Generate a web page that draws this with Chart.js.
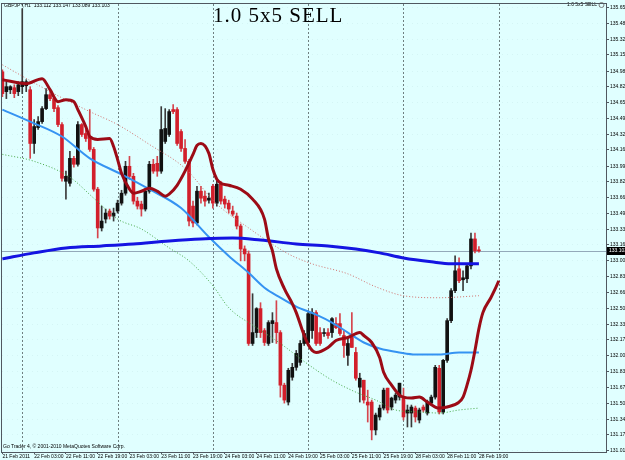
<!DOCTYPE html>
<html>
<head>
<meta charset="utf-8">
<script src="https://cdn.jsdelivr.net/npm/chart.js@4.4.1/dist/chart.umd.min.js"></script>
<style>
  html, body { margin: 0; padding: 0; background: #e0ffff; }
  #wrap { width: 625px; height: 460px; }
</style>
</head>
<body>
<div id="wrap"><canvas id="chart" width="625" height="460"></canvas></div>
<script>
// GBPJPY H1 — MT4 style candles with moving averages / envelopes

// --- candles (bar index 0 = 21 Feb 19:00) ---
const opens = [
  134.979, 134.771, 134.791, 134.812, 134.771, 134.823, 134.833, 134.791, 134.228, 134.395,
  134.457, 134.593, 134.739, 134.698, 134.603, 134.426, 133.832, 133.811, 134.072, 134.010,
  134.426, 134.332, 134.301, 134.166, 133.749, 133.343, 133.436, 133.520, 133.467, 133.520,
  133.603, 133.707, 133.989, 133.884, 133.624, 133.593, 133.541, 133.728, 134.010, 134.020,
  133.938, 134.249, 134.322, 134.583, 134.583, 134.353, 134.176, 134.041, 133.572, 133.395,
  133.728, 133.676, 133.634, 133.780, 133.603, 133.801, 133.645, 133.603, 133.520, 133.467,
  133.363, 133.123, 133.071, 132.133, 132.247, 132.498, 132.268, 132.133, 132.341, 132.352,
  132.247, 131.696, 131.519, 131.779, 131.883, 131.935, 132.133, 132.143, 132.268, 132.456,
  132.247, 132.237, 132.247, 132.247, 132.341, 132.341, 132.216, 132.008, 132.216, 132.039,
  131.675, 131.748, 131.519, 131.519, 131.227, 131.363, 131.456, 131.665, 131.467, 131.540,
  131.571, 131.561, 131.404, 131.404, 131.456, 131.331, 131.467, 131.404, 131.508, 131.571,
  131.873, 131.415, 131.956, 132.372, 132.686, 132.915, 132.800, 132.811, 132.946, 133.228,
  133.112
];
const highs = [
  135.000, 134.875, 134.833, 134.843, 134.875, 135.640, 134.896, 134.823, 134.478, 134.510,
  134.614, 134.802, 134.771, 134.718, 134.624, 134.447, 133.938, 134.145, 134.093, 134.457,
  134.437, 134.374, 134.583, 134.186, 133.769, 133.572, 133.541, 133.541, 133.551, 133.634,
  133.738, 134.041, 134.093, 133.915, 133.665, 133.624, 133.759, 134.041, 134.062, 134.093,
  134.614, 134.593, 134.583, 134.635, 134.603, 134.374, 134.270, 134.062, 133.624, 133.780,
  133.780, 133.728, 133.707, 133.801, 133.832, 133.832, 133.676, 133.634, 133.572, 133.499,
  133.384, 133.155, 133.102, 132.654, 132.508, 132.560, 132.289, 132.372, 132.456, 132.581,
  132.268, 131.717, 131.873, 131.925, 132.060, 132.164, 132.268, 132.477, 132.498, 132.477,
  132.299, 132.289, 132.289, 132.404, 132.404, 132.445, 132.268, 132.195, 132.456, 132.091,
  131.821, 131.748, 131.644, 131.540, 131.404, 131.488, 131.665, 131.665, 131.571, 131.613,
  131.717, 131.665, 131.488, 131.488, 131.477, 131.456, 131.488, 131.540, 131.592, 131.904,
  131.904, 131.966, 132.393, 132.707, 133.050, 133.029, 132.894, 132.967, 133.290, 133.290,
  133.147
];
const lows = [
  134.718, 134.698, 134.750, 134.708, 134.729, 134.750, 134.771, 134.072, 134.124, 134.374,
  134.437, 134.583, 134.677, 134.562, 134.405, 133.832, 133.645, 133.780, 133.979, 133.989,
  134.301, 134.249, 134.145, 133.728, 133.238, 133.311, 133.395, 133.436, 133.415, 133.499,
  133.582, 133.686, 133.853, 133.593, 133.541, 133.467, 133.520, 133.707, 133.915, 133.884,
  133.915, 134.228, 134.301, 134.541, 134.207, 134.145, 134.020, 133.363, 133.353, 133.374,
  133.603, 133.572, 133.603, 133.551, 133.572, 133.593, 133.551, 133.499, 133.467, 133.332,
  132.998, 132.998, 132.112, 132.112, 132.195, 132.195, 132.112, 132.112, 132.143, 132.133,
  131.571, 131.508, 131.488, 131.748, 131.852, 131.904, 132.112, 132.112, 132.185, 132.112,
  132.112, 132.206, 132.185, 132.195, 132.289, 132.216, 131.987, 131.904, 132.091, 131.748,
  131.519, 131.508, 131.310, 131.123, 131.175, 131.331, 131.436, 131.404, 131.436, 131.508,
  131.540, 131.331, 131.258, 131.258, 131.310, 131.300, 131.415, 131.383, 131.488, 131.550,
  131.394, 131.394, 131.935, 132.352, 132.665, 132.769, 132.686, 132.769, 132.915, 133.082,
  133.089
];
const closes = [
  134.750, 134.823, 134.823, 134.750, 134.843, 134.875, 134.875, 134.228, 134.405, 134.457,
  134.593, 134.739, 134.698, 134.593, 134.426, 133.863, 133.884, 134.072, 134.010, 134.426,
  134.322, 134.280, 134.166, 133.749, 133.343, 133.415, 133.499, 133.467, 133.499, 133.603,
  133.707, 133.989, 133.884, 133.624, 133.572, 133.541, 133.728, 134.010, 133.938, 133.938,
  134.374, 134.385, 134.562, 134.562, 134.228, 134.176, 134.041, 133.415, 133.395, 133.728,
  133.655, 133.624, 133.655, 133.603, 133.801, 133.624, 133.593, 133.541, 133.488, 133.363,
  133.123, 133.071, 132.133, 132.247, 132.498, 132.247, 132.143, 132.352, 132.372, 132.247,
  131.696, 131.540, 131.852, 131.883, 132.029, 132.133, 132.237, 132.445, 132.456, 132.133,
  132.133, 132.247, 132.216, 132.393, 132.299, 132.237, 132.112, 132.133, 132.091, 131.769,
  131.769, 131.540, 131.488, 131.227, 131.383, 131.456, 131.644, 131.436, 131.561, 131.592,
  131.717, 131.363, 131.436, 131.467, 131.363, 131.436, 131.436, 131.519, 131.571, 131.883,
  131.415, 131.956, 132.372, 132.686, 132.894, 132.790, 132.821, 132.946, 133.228, 133.102,
  133.103
];

// --- indicator lines (bar index -> price) ---
const redIdx  = [0, 6, 10, 12, 14, 16, 18, 19, 21, 22, 24, 27, 28, 29, 30, 32, 33, 35, 37, 39, 41, 42, 44, 46, 48, 49, 50, 52, 53, 54, 55, 57, 60, 63, 66, 67, 68, 69, 71, 73, 74, 76, 77, 78, 79, 82, 84, 87, 90, 91, 93, 95, 96, 98, 100, 101, 103, 105, 107, 109, 110, 112, 115, 116, 117, 118, 119, 120, 121, 123, 124, 125];
const redVals = [134.896, 134.854, 134.906, 134.791, 134.666, 134.687, 134.666, 134.583, 134.405, 134.301, 134.270, 134.280, 134.197, 134.062, 133.915, 133.749, 133.707, 133.728, 133.759, 133.728, 133.676, 133.697, 133.790, 133.938, 134.114, 134.207, 134.228, 134.124, 133.958, 133.853, 133.811, 133.790, 133.749, 133.645, 133.436, 133.228, 133.102, 132.915, 132.707, 132.550, 132.456, 132.216, 132.122, 132.060, 132.039, 132.091, 132.164, 132.195, 132.247, 132.216, 132.143, 131.987, 131.831, 131.696, 131.592, 131.571, 131.561, 131.571, 131.519, 131.467, 131.456, 131.467, 131.519, 131.571, 131.696, 131.852, 132.060, 132.289, 132.456, 132.612, 132.696, 132.790];

const blueIdx  = [0, 8, 16, 25, 33, 42, 50, 58, 65, 74, 82, 89, 95, 101, 108, 113, 120];
const blueVals = [133.019, 133.082, 133.134, 133.155, 133.176, 133.207, 133.228, 133.238, 133.217, 133.176, 133.155, 133.123, 133.082, 133.029, 132.988, 132.967, 132.967];

const lightIdx  = [0, 7, 15, 22, 30, 37, 45, 52, 57, 62, 66, 70, 74, 79, 83, 87, 91, 95, 100, 104, 110, 115, 120];
const lightVals = [134.583, 134.457, 134.301, 134.072, 133.905, 133.749, 133.551, 133.248, 133.050, 132.873, 132.717, 132.613, 132.519, 132.435, 132.352, 132.247, 132.143, 132.081, 132.039, 132.018, 132.018, 132.039, 132.039];

const upIdx  = [0, 12, 22, 29, 37, 46, 54, 62, 66, 72, 78, 87, 94, 101, 110, 120];
const upVals = [135.052, 134.771, 134.562, 134.426, 134.218, 133.967, 133.593, 133.343, 133.228, 133.071, 132.967, 132.862, 132.727, 132.633, 132.612, 132.633];

const loIdx  = [0, 8, 17, 23, 29, 35, 42, 47, 53, 57, 64, 70, 77, 83, 89, 94, 99, 105, 110, 115, 120];
const loVals = [134.114, 134.041, 133.874, 133.655, 133.436, 133.332, 133.134, 132.998, 132.738, 132.508, 132.299, 132.133, 131.914, 131.748, 131.623, 131.540, 131.436, 131.415, 131.404, 131.436, 131.456];

// --- axes ---
const yTickLabels = ['135.650', '135.485', '135.320', '135.155', '134.985', '134.820', '134.655', '134.490', '134.325', '134.160', '133.990', '133.825', '133.660', '133.495', '133.330', '133.165', '133.000', '132.830', '132.665', '132.500', '132.335', '132.170', '132.005', '131.835', '131.670', '131.505', '131.340', '131.175', '131.010'];
const xTickLabels = ['21 Feb 2011', '22 Feb 03:00', '22 Feb 11:00', '22 Feb 19:00', '23 Feb 03:00', '23 Feb 11:00', '23 Feb 19:00', '24 Feb 03:00', '24 Feb 11:00', '24 Feb 19:00', '25 Feb 03:00', '25 Feb 11:00', '25 Feb 19:00', '28 Feb 03:00', '28 Feb 11:00', '28 Feb 19:00'];
const daySeparators = [5, 29, 53, 77, 101, 125];

const headerText = 'GBPJPY,H1  133.112 133.147 133.089 133.103';
const signalText = '1.0 5x5 SELL';
const copyrightText = 'Go Trader 4, \u00a9 2001-2010 MetaQuotes Software Corp.';

const SMALL_FONT = '5px "Liberation Sans", Arial, sans-serif';
const AXIS_COLOR = '#505860';

const isBull = closes.map((c, i) => c >= opens[i]);
const bodyColors = isBull.map(b => b ? '#111111' : '#d21f2b');
const wickColors = isBull.map(b => b ? '#3a3a3a' : '#d6454d');

function pts(idx, vals) {
  return idx.map((x, k) => ({ x, y: vals[k] }));
}

// Draws background, day separators, bid line, labels and the price box
const mt4Plugin = {
  id: 'mt4',
  beforeDraw(chart) {
    const { ctx } = chart;
    ctx.save();
    ctx.fillStyle = '#e0ffff';
    ctx.fillRect(0, 0, chart.width, chart.height);
    ctx.restore();
  },
  beforeDatasetsDraw(chart) {
    const { ctx, chartArea: a, scales } = chart;
    ctx.save();
    ctx.strokeStyle = '#6f7f80';
    ctx.lineWidth = 1;
    ctx.setLineDash([2, 2]);
    daySeparators.forEach(i => {
      const x = Math.round(scales.x.getPixelForValue(i)) + 0.5;
      ctx.beginPath();
      ctx.moveTo(x, a.top);
      ctx.lineTo(x, a.bottom);
      ctx.stroke();
    });
    ctx.setLineDash([]);
    // bid line
    const yb = Math.round(scales.y.getPixelForValue(closes[closes.length - 1])) + 0.5;
    ctx.strokeStyle = '#93a9b9';
    ctx.beginPath();
    ctx.moveTo(a.left, yb);
    ctx.lineTo(a.right, yb);
    ctx.stroke();
    ctx.restore();
  },
  afterDatasetsDraw(chart) {
    const { ctx } = chart;
    ctx.save();
    ctx.fillStyle = '#000';
    ctx.textBaseline = 'middle';
    ctx.font = SMALL_FONT;
    ctx.textAlign = 'left';
    ctx.fillText(headerText, 4, 6);
    ctx.fillText(copyrightText, 3, 447);
    ctx.textAlign = 'right';
    ctx.fillText(signalText, 597, 5);
    ctx.strokeStyle = '#7a7a7a';
    ctx.beginPath();
    ctx.arc(601.5, 5, 2.5, 0, Math.PI * 2);
    ctx.stroke();
    // big signal label
    ctx.textAlign = 'left';
    ctx.textBaseline = 'alphabetic';
    ctx.font = '21px "Liberation Serif", "Times New Roman", serif';
    if ('letterSpacing' in ctx) ctx.letterSpacing = '1px';
    ctx.fillText(signalText, 213, 22);
    ctx.restore();
  },
  afterDraw(chart) {
    const { ctx, chartArea: a, scales } = chart;
    ctx.save();
    ctx.strokeStyle = AXIS_COLOR;
    ctx.lineWidth = 1;
    ctx.strokeRect(a.left - 0.5, a.top - 0.5, a.right - a.left + 1, a.bottom - a.top + 1);
    // current price box
    const last = closes[closes.length - 1];
    const y = Math.round(scales.y.getPixelForValue(last));
    ctx.fillStyle = '#000';
    ctx.fillRect(a.right + 1, y - 4, chart.width - a.right, 8);
    ctx.fillStyle = '#fff';
    ctx.font = SMALL_FONT;
    ctx.textBaseline = 'middle';
    ctx.textAlign = 'left';
    ctx.fillText(last.toFixed(3), a.right + 3, y);
    ctx.restore();
  }
};

new Chart(document.getElementById('chart'), {
  type: 'bar',
  data: {
    datasets: [
      {
        type: 'line', label: 'SMMA 5x5',
        data: pts(redIdx, redVals),
        borderColor: '#9c0b16', borderWidth: 3,
        pointRadius: 0, cubicInterpolationMode: 'monotone', order: 0,
      },
      {
        type: 'line', label: 'MA slow',
        data: pts(blueIdx, blueVals),
        borderColor: '#1414e2', borderWidth: 3,
        pointRadius: 0, cubicInterpolationMode: 'monotone', order: 1,
      },
      {
        type: 'line', label: 'MA mid',
        data: pts(lightIdx, lightVals),
        borderColor: '#3593f2', borderWidth: 2,
        pointRadius: 0, cubicInterpolationMode: 'monotone', order: 1,
      },
      {
        type: 'line', label: 'Envelope up',
        data: pts(upIdx, upVals),
        borderColor: '#d2706c', borderWidth: 1, borderDash: [1, 2],
        pointRadius: 0, cubicInterpolationMode: 'monotone', order: 1,
      },
      {
        type: 'line', label: 'Envelope down',
        data: pts(loIdx, loVals),
        borderColor: '#45a845', borderWidth: 1, borderDash: [1, 2],
        pointRadius: 0, cubicInterpolationMode: 'monotone', order: 1,
      },
      {
        type: 'bar', label: 'Body',
        data: closes.map((c, i) => ({ x: i, y: [opens[i], c] })),
        backgroundColor: bodyColors,
        barThickness: 3, minBarLength: 1, grouped: false, order: 2,
      },
      {
        type: 'bar', label: 'Wick',
        data: closes.map((c, i) => ({ x: i, y: [lows[i], highs[i]] })),
        backgroundColor: wickColors,
        barThickness: 1, grouped: false, order: 3,
      },
    ],
  },
  options: {
    responsive: false,
    devicePixelRatio: 1,
    animation: false,
    layout: { padding: { top: 2, left: 2, right: 0, bottom: 0 } },
    plugins: {
      legend: { display: false },
      tooltip: { enabled: false },
    },
    scales: {
      x: {
        type: 'linear', min: -0.1, max: 152, offset: false,
        grid: { drawOnChartArea: false, tickLength: 2, tickColor: AXIS_COLOR, offset: false },
        border: { display: true, color: AXIS_COLOR },
        ticks: {
          autoSkip: false, maxRotation: 0, align: 'start', padding: 0,
          color: '#000', font: { size: 5, family: '"Liberation Sans", Arial, sans-serif' },
          callback: (v, i) => xTickLabels[i],
        },
        afterBuildTicks: axis => { axis.ticks = xTickLabels.map((_, k) => ({ value: k * 8 })); },
        afterFit: axis => { axis.height = 8; },
      },
      y: {
        type: 'linear', position: 'right', min: 130.996, max: 135.689,
        grid: { color: 'rgba(140,185,185,0.14)', tickLength: 3, tickColor: AXIS_COLOR, tickBorderDash: [] },
        border: { display: true, color: AXIS_COLOR, dash: [1, 4] },
        ticks: {
          autoSkip: false, padding: 1,
          color: '#000', font: { size: 5, family: '"Liberation Sans", Arial, sans-serif' },
          callback: (v, i) => yTickLabels[i],
        },
        afterBuildTicks: axis => { axis.ticks = yTickLabels.map(s => ({ value: parseFloat(s) })); },
        afterFit: axis => { axis.width = 19; },
      },
    },
  },
  plugins: [mt4Plugin],
});
</script>
</body>
</html>
